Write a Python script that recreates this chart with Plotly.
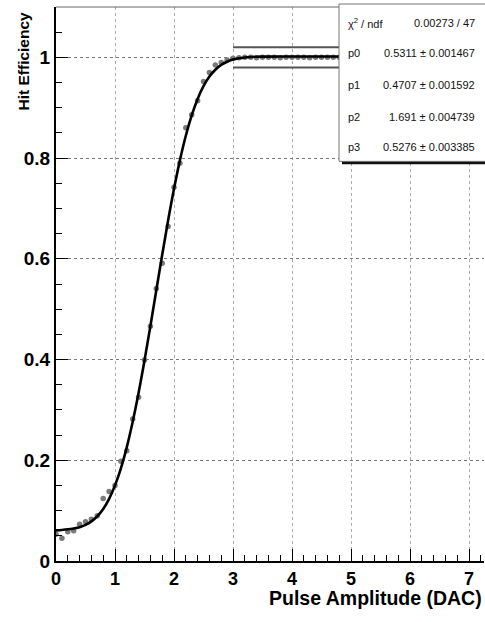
import plotly.graph_objects as go

# ---- data ----
x_data = [0.0, 0.1, 0.2, 0.3, 0.4, 0.5, 0.6, 0.7, 0.8, 0.9,
          1.0, 1.1, 1.2, 1.3, 1.4, 1.5, 1.6, 1.7, 1.8, 1.9,
          2.0, 2.1, 2.2, 2.3, 2.4, 2.5, 2.6, 2.7, 2.8, 2.9,
          3.0, 3.1, 3.2, 3.3, 3.4, 3.5, 3.6, 3.7, 3.8, 3.9,
          4.0, 4.1, 4.2, 4.3, 4.4, 4.5, 4.6, 4.7, 4.8, 4.9, 5.0]
y_data = [0.053, 0.045, 0.058, 0.060, 0.073, 0.078, 0.083, 0.090, 0.124, 0.138,
          0.150, 0.198, 0.219, 0.282, 0.325, 0.399, 0.466, 0.541, 0.591, 0.664,
          0.742, 0.790, 0.860, 0.886, 0.914, 0.952, 0.970, 0.985, 0.990, 0.995,
          0.998, 0.999, 1.000, 1.000, 0.999, 1.000, 1.000, 1.000, 0.999, 1.000,
          1.000, 1.000, 1.000, 0.999, 1.000, 1.000, 1.000, 1.000, 1.000, 1.000, 1.000]

fit_x = [0.0, 0.1, 0.2, 0.3, 0.4, 0.5, 0.6, 0.7, 0.8, 0.9,
         1.0, 1.1, 1.2, 1.3, 1.4, 1.5, 1.6, 1.7, 1.8, 1.9,
         2.0, 2.1, 2.2, 2.3, 2.4, 2.5, 2.6, 2.7, 2.8, 2.9,
         3.0, 3.1, 3.2, 3.3, 3.4, 3.5, 4.0, 4.5, 5.0]
fit_y = [0.0609, 0.0617, 0.0629, 0.0647, 0.0672, 0.0717, 0.0786, 0.0889, 0.1033, 0.1234,
         0.1502, 0.1841, 0.2262, 0.2764, 0.3340, 0.3980, 0.4666, 0.5375, 0.6082, 0.6760,
         0.7390, 0.7955, 0.8443, 0.8847, 0.9175, 0.9428, 0.9618, 0.9755, 0.9850, 0.9914,
         0.9956, 0.9981, 0.9997, 1.0007, 1.0013, 1.0015, 1.0018, 1.0018, 1.0018]

band_x = [3.0, 5.0]
band_hi = [1.02, 1.02]
band_lo = [0.98, 0.98]

x_ticks = [0, 1, 2, 3, 4, 5, 6, 7]
y_ticks = [0, 0.2, 0.4, 0.6, 0.8, 1.0]
y_ticklabels = ["0", "0.2", "0.4", "0.6", "0.8", "1"]

stat_labels = ["\u03c7<sup>2</sup> / ndf", "p0", "p1", "p2", "p3"]
stat_values = ["0.00273 / 47", "0.5311 \u00b1 0.001467", "0.4707 \u00b1 0.001592",
               "1.691 \u00b1 0.004739", "0.5276 \u00b1 0.003385"]

FONT = "Liberation Sans, Arial, Helvetica, sans-serif"

# ---- geometry helpers (pixel -> paper) ----
W, H = 485, 622
L, R, T, B = 56, 484, 7, 561.5
def px(x):
    return (x - L) / (R - L)
def py(y):
    return (B - y) / (B - T)

fig = go.Figure()

fig.add_trace(go.Scatter(
    x=x_data, y=y_data, mode="markers",
    marker=dict(color="#7a7a7a", size=5.5, line=dict(width=0)),
    showlegend=False, hoverinfo="skip"))

fig.add_trace(go.Scatter(
    x=fit_x, y=fit_y, mode="lines", line_shape="spline",
    line=dict(color="black", width=2.6),
    showlegend=False, hoverinfo="skip"))

for yy in (band_hi, band_lo):
    fig.add_trace(go.Scatter(
        x=band_x, y=yy, mode="lines",
        line=dict(color="#555555", width=2),
        showlegend=False, hoverinfo="skip"))

shapes = [
    dict(type="line", xref="paper", yref="paper", x0=0, x1=1, y0=1, y1=1,
         line=dict(color="#666666", width=1)),
    dict(type="rect", xref="paper", yref="paper",
         x0=px(342), x1=px(492), y0=py(164.5), y1=py(8),
         fillcolor="#111111", line=dict(width=0), layer="above"),
    dict(type="rect", xref="paper", yref="paper",
         x0=px(339), x1=px(490), y0=py(161.5), y1=py(4),
         fillcolor="white", line=dict(color="#777777", width=1), layer="above"),
]

row_y = [22.7, 53, 85.5, 117, 147]
annotations = []
for lab, val, yy in zip(stat_labels, stat_values, row_y):
    annotations.append(dict(xref="paper", yref="paper", x=px(346), y=py(yy),
                            xanchor="left", yanchor="middle", text=lab, showarrow=False,
                            font=dict(family=FONT, size=11, color="#111111")))
    annotations.append(dict(xref="paper", yref="paper", x=px(477), y=py(yy),
                            xanchor="right", yanchor="middle", text=val, showarrow=False,
                            font=dict(family=FONT, size=11, color="#111111")))

annotations.append(dict(xref="paper", yref="paper", x=1.0, y=py(599),
                        xanchor="right", yanchor="middle", showarrow=False,
                        text="<b>Pulse Amplitude (DAC)</b>",
                        font=dict(family=FONT, size=19.5, color="black")))
annotations.append(dict(xref="paper", yref="paper", x=px(23), y=py(10),
                        xanchor="center", yanchor="top", showarrow=False, textangle=-90,
                        text="<b>Hit Efficiency</b>",
                        font=dict(family=FONT, size=15.5, color="black")))

fig.update_layout(
    width=W, height=H,
    margin=dict(l=L, r=W - R, t=T, b=H - B),
    paper_bgcolor="white", plot_bgcolor="white",
    shapes=shapes, annotations=annotations,
    xaxis=dict(range=[0, (R - L) / 59.0], tickvals=x_ticks,
               ticks="inside", ticklen=12, tickwidth=1, tickcolor="black",
               showline=True, linecolor="black", linewidth=2,
               showgrid=True, gridcolor="#aaaaaa", griddash="dot", gridwidth=1,
               zeroline=False,
               tickfont=dict(family=FONT, size=18, color="black", weight="bold"),
               minor=dict(dtick=0.2, ticks="inside", ticklen=6, tickcolor="black", showgrid=False)),
    yaxis=dict(range=[0, 1.1], tickvals=y_ticks, ticktext=y_ticklabels,
               ticks="inside", ticklen=12, tickwidth=1, tickcolor="black",
               showline=True, linecolor="black", linewidth=2,
               showgrid=True, gridcolor="#777777", griddash="dot", gridwidth=1,
               zeroline=False,
               tickfont=dict(family=FONT, size=19, color="black", weight="bold"),
               minor=dict(dtick=0.05, ticks="inside", ticklen=6, tickcolor="black", showgrid=False)),
)

fig.write_html("out.html", config={"displayModeBar": False},
               post_script="document.body.style.margin='0px';")
